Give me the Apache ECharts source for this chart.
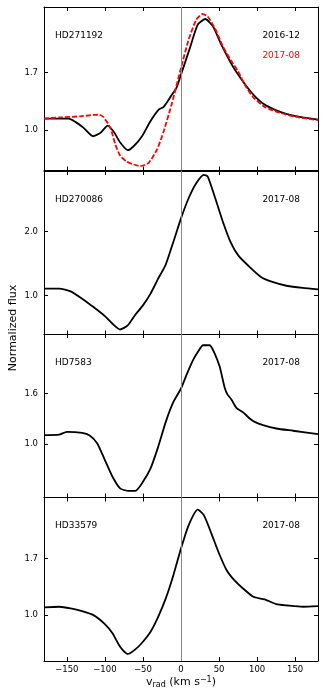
<!DOCTYPE html>
<html>
<head>
<meta charset="utf-8">
<script src="https://cdn.jsdelivr.net/npm/echarts@6/dist/echarts.min.js"></script>
<style>
html, body { margin: 0; padding: 0; background: #fff; }
#chart { width: 327px; height: 696px; }
</style>
</head>
<body>
<div id="chart"></div>
<script>
// HD271192, 2016-12 (black) and 2017-08 (red dashed)
var vel1 = [-180, -147.6, -138.8, -127.9, -115.6, -105.9, -96.3, -88.4, -79.6, -70, -62.2, -51.2, -40.2, -29.3, -22.7, -11.8, -6, 0, 11, 22, 32, 42, 53, 68, 86, 99, 112, 134, 156, 180];
var flux1 = [1.137, 1.137, 1.097, 1.024, 0.922, 0.963, 1.052, 0.976, 0.842, 0.752, 0.8, 0.922, 1.105, 1.247, 1.279, 1.429, 1.51, 1.672, 1.976, 2.28, 2.349, 2.259, 2.036, 1.773, 1.53, 1.389, 1.295, 1.207, 1.158, 1.125];
var vel1b = [-180, -160, -132, -108, -101.6, -92.8, -86.2, -79.6, -70.9, -62.2, -53.4, -42.4, -31.5, -22.7, -11.8, 0, 10, 20, 28, 35, 45, 55, 65, 75, 85, 95, 110, 130, 150, 180];
var flux1b = [1.137, 1.15, 1.165, 1.186, 1.153, 1.024, 0.821, 0.679, 0.611, 0.578, 0.558, 0.599, 0.761, 0.983, 1.328, 1.753, 2.097, 2.34, 2.41, 2.38, 2.227, 2.016, 1.854, 1.712, 1.53, 1.396, 1.279, 1.207, 1.16, 1.117];

// HD270086
var vel2 = [-180, -160, -145, -130, -115, -100, -90, -80, -70, -60, -50, -40, -30, -25, -20, -10, 0, 10, 20, 30, 35, 45, 55, 65, 75, 90, 105, 120, 140, 160, 180];
var flux2 = [1.109, 1.109, 1.067, 0.953, 0.822, 0.681, 0.562, 0.473, 0.536, 0.703, 0.848, 1.031, 1.266, 1.37, 1.484, 1.838, 2.203, 2.516, 2.75, 2.88, 2.855, 2.516, 2.15, 1.838, 1.63, 1.447, 1.291, 1.213, 1.15, 1.12, 1.098];

// HD7583
var vel3 = [-180, -160, -150, -130, -120, -110, -100, -90, -80, -70, -60, -50, -40, -30, -20, -10, 0, 7.1, 15.8, 22.3, 28.9, 37.7, 44.3, 50.9, 54, 57.4, 61, 66.2, 72.8, 81.5, 90.3, 96.8, 107.8, 125.3, 147.2, 180];
var flux3 = [1.104, 1.11, 1.143, 1.131, 1.1, 1.005, 0.806, 0.607, 0.468, 0.44, 0.44, 0.547, 0.707, 0.964, 1.262, 1.5, 1.66, 1.819, 1.998, 2.097, 2.176, 2.176, 2.077, 1.92, 1.8, 1.67, 1.59, 1.53, 1.43, 1.375, 1.303, 1.262, 1.223, 1.183, 1.156, 1.115];

// HD33579
var vel4 = [-180, -160, -145, -130, -115, -100, -90, -80, -70, -60, -50, -40, -30, -20, -10, 0, 10, 22, 30, 40, 50, 60, 70, 80, 95, 110, 125, 140, 160, 180];
var flux4 = [1.092, 1.1, 1.08, 1.046, 0.996, 0.884, 0.769, 0.602, 0.512, 0.57, 0.665, 0.789, 0.975, 1.204, 1.493, 1.825, 2.114, 2.309, 2.24, 2.011, 1.763, 1.555, 1.431, 1.34, 1.224, 1.191, 1.133, 1.116, 1.1, 1.108];

var names = ['HD271192', 'HD270086', 'HD7583', 'HD33579'];
var yTicks = [[1.0, 1.7], [1.0, 2.0], [1.0, 1.6], [1.0, 1.7]];
var xTicks = [-150, -100, -50, 0, 50, 100, 150];

var yMin = [0.505, 0.395, 0.36, 0.425];
var yMax = [2.495, 2.94, 2.31, 2.46];
var tops = [7, 171, 334, 497.5];
var panelH = 163.5;

function zip(a, b) {
    var out = [];
    for (var i = 0; i < a.length; i++) {
        out.push([a[i], b[i]]);
    }
    return out;
}

var font = 'DejaVu Sans';
var grids = [], xAxes = [], yAxes = [], series = [], graphics = [];

for (var i = 0; i < 4; i++) {
    grids.push({ left: 44, width: 274, top: tops[i], height: panelH });
    var tickStyle = { show: true, inside: true, length: 4, lineStyle: { color: '#000', width: 1 } };
    xAxes.push({
        type: 'value', gridIndex: i, min: -180, max: 180, position: 'bottom',
        axisLine: { show: true, onZero: false, lineStyle: { color: '#000', width: 1 } },
        axisTick: Object.assign({ customValues: xTicks }, tickStyle),
        axisLabel: {
            show: i === 3, customValues: xTicks, fontSize: 8.5, fontFamily: font, color: '#000', margin: 4,
            formatter: function (v) { return String(v).replace('-', '\u2212'); }
        },
        splitLine: { show: false }
    });
    xAxes.push({
        type: 'value', gridIndex: i, min: -180, max: 180, position: 'top',
        axisLine: { show: true, onZero: false, lineStyle: { color: '#000', width: 1 } },
        axisTick: Object.assign({ customValues: xTicks }, tickStyle),
        axisLabel: { show: false },
        splitLine: { show: false }
    });
    yAxes.push({
        type: 'value', gridIndex: i, min: yMin[i], max: yMax[i], position: 'left',
        axisLine: { show: true, onZero: false, lineStyle: { color: '#000', width: 1 } },
        axisTick: Object.assign({ customValues: yTicks[i] }, tickStyle),
        axisLabel: {
            customValues: yTicks[i], fontSize: 8.5, fontFamily: font, color: '#000', margin: 6,
            formatter: function (v) { return v.toFixed(1); }
        },
        splitLine: { show: false }
    });
    yAxes.push({
        type: 'value', gridIndex: i, min: yMin[i], max: yMax[i], position: 'right',
        axisLine: { show: true, onZero: false, lineStyle: { color: '#000', width: 1 } },
        axisTick: Object.assign({ customValues: yTicks[i] }, tickStyle),
        axisLabel: { show: false },
        splitLine: { show: false }
    });

    graphics.push({
        type: 'text', left: 55, top: tops[i] + 30 - 6,
        style: { text: names[i], font: '9px "DejaVu Sans"', fill: '#000' }
    });
    graphics.push({
        type: 'text', right: 27, top: tops[i] + 30 - 6,
        style: { text: i === 0 ? '2016-12' : '2017-08', font: '9px "DejaVu Sans"', fill: '#000' }
    });
}
graphics.push({
    type: 'text', right: 27, top: tops[0] + 50 - 6,
    style: { text: '2017-08', font: '9px "DejaVu Sans"', fill: '#ff0000' }
});

var panelData = [zip(vel1, flux1), zip(vel2, flux2), zip(vel3, flux3), zip(vel4, flux4)];
for (var i = 0; i < 4; i++) {
    series.push({
        type: 'line', xAxisIndex: 2 * i, yAxisIndex: 2 * i,
        data: panelData[i], showSymbol: false, smooth: 0.2, z: 3,
        lineStyle: { color: '#000', width: 1.8 },
        markLine: {
            silent: true, symbol: 'none', label: { show: false },
            lineStyle: { color: '#888', width: 1, type: 'solid' },
            data: [{ xAxis: 0 }]
        }
    });
}
series.push({
    type: 'line', xAxisIndex: 0, yAxisIndex: 0,
    data: zip(vel1b, flux1b), showSymbol: false, smooth: 0.2, z: 4,
    lineStyle: { color: '#ff0000', width: 1.8, type: [5, 2] }
});

graphics.push({
    type: 'text', x: 13, y: 328, rotation: Math.PI / 2,
    style: { text: 'Normalized flux', font: '11px "DejaVu Sans"', fill: '#000', align: 'center', verticalAlign: 'middle' }
});
graphics.push({
    type: 'text', x: 181, y: 682,
    style: {
        text: '{t|v}{s|rad}{t| (km s}{p|\u22121}{t|)}', align: 'center', verticalAlign: 'middle',
        rich: {
            t: { fontSize: 11, fontFamily: font, fill: '#000' },
            s: { fontSize: 8, fontFamily: font, fill: '#000', verticalAlign: 'bottom', padding: [4, 0, 0, 0] },
            p: { fontSize: 8, fontFamily: font, fill: '#000', verticalAlign: 'top', padding: [0, 0, 5, 0] }
        }
    }
});

var myChart = echarts.init(document.getElementById('chart'));
myChart.setOption({
    animation: false,
    grid: grids,
    xAxis: xAxes,
    yAxis: yAxes,
    series: series,
    graphic: graphics
});
</script>
</body>
</html>
